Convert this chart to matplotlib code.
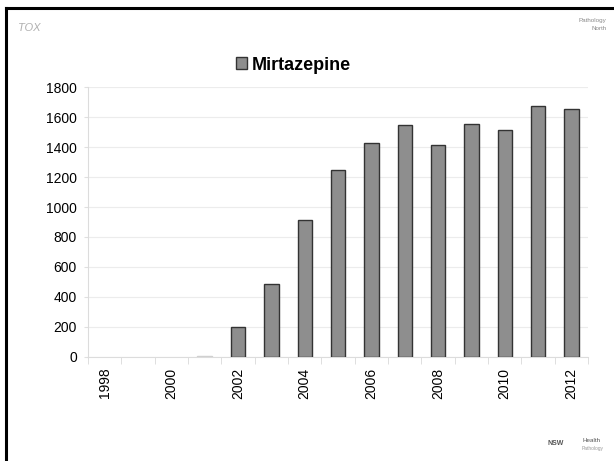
import matplotlib.pyplot as plt
from matplotlib.patches import Patch
from matplotlib.lines import Line2D

plt.rcParams['font.family'] = ['Liberation Sans', 'DejaVu Sans']

years = ['1998', '1999', '2000', '2001', '2002', '2003', '2004', '2005',
         '2006', '2007', '2008', '2009', '2010', '2011', '2012']
mirtazepine = [0, 0, 0, 4, 200, 486, 912, 1245, 1425, 1546, 1412,
               1552, 1512, 1677, 1652]
series_name = 'Mirtazepine'

fig = plt.figure(figsize=(6.14, 4.61), dpi=100)
ax = fig.add_axes([0.1433, 0.2262, 0.8144, 0.5844])

x = list(range(len(years)))
# no outline on empty / near-empty years so they don't show as dark stubs
edges = ['#333333' if v >= 50 else '#d0d0d0' if v > 0 else 'none' for v in mirtazepine]
ax.bar(x, mirtazepine, width=0.43, color='#8e8e8e', edgecolor=edges,
       linewidth=1.0, zorder=3)

ax.set_xlim(-0.5, len(years) - 0.5)
ax.set_ylim(0, 1800)
ax.set_yticks(range(0, 1801, 200))
ax.tick_params(axis='y', labelsize=10, length=3, color='#e0e0e0', pad=5)
ax.yaxis.grid(True, color='#ececec', linewidth=0.8, zorder=0)

# every other year labelled, ticks on category boundaries
ax.set_xticks(x[::2])
ax.set_xticklabels(years[::2], rotation=90, fontsize=10)
ax.tick_params(axis='x', which='major', length=0, pad=8)
ax.set_xticks([i - 0.5 for i in range(len(years) + 1)], minor=True)
ax.tick_params(axis='x', which='minor', length=5, color='#d9d9d9')

for side in ['top', 'right']:
    ax.spines[side].set_visible(False)
for side in ['left', 'bottom']:
    ax.spines[side].set_color('#dcdcdc')
    ax.spines[side].set_linewidth(0.8)

fig.legend(handles=[Patch(facecolor='#8e8e8e', edgecolor='#333333', label=series_name)],
           loc='center', bbox_to_anchor=(0.478, 0.859), frameon=False,
           prop={'size': 13, 'weight': 'bold'}, handlelength=0.62,
           handleheight=0.62, handletextpad=0.3)

# slide frame (top and left edges)
fig.add_artist(Line2D([0.0105, 1.0], [0.982, 0.982], color='black', linewidth=2.2,
                      transform=fig.transFigure))
fig.add_artist(Line2D([0.0105, 0.0105], [0.0, 0.982], color='black', linewidth=2.2,
                      transform=fig.transFigure))

# logos as faint text
fig.text(0.048, 0.94, 'TOX', fontsize=8, color='#b0b0b0', style='italic',
         ha='center', va='center')
fig.text(0.988, 0.955, 'Pathology', fontsize=4.5, color='#8a8a8a', ha='right', va='center')
fig.text(0.988, 0.938, 'North', fontsize=4.5, color='#8a8a8a', ha='right', va='center')
fig.text(0.905, 0.038, 'NSW', fontsize=5, color='#555555', weight='bold',
         ha='center', va='center')
fig.text(0.948, 0.045, 'Health', fontsize=4.5, color='#555555', ha='left', va='center')
fig.text(0.948, 0.028, 'Pathology', fontsize=3.5, color='#999999', ha='left', va='center')

fig.savefig('out.png', dpi=100, facecolor='white')
